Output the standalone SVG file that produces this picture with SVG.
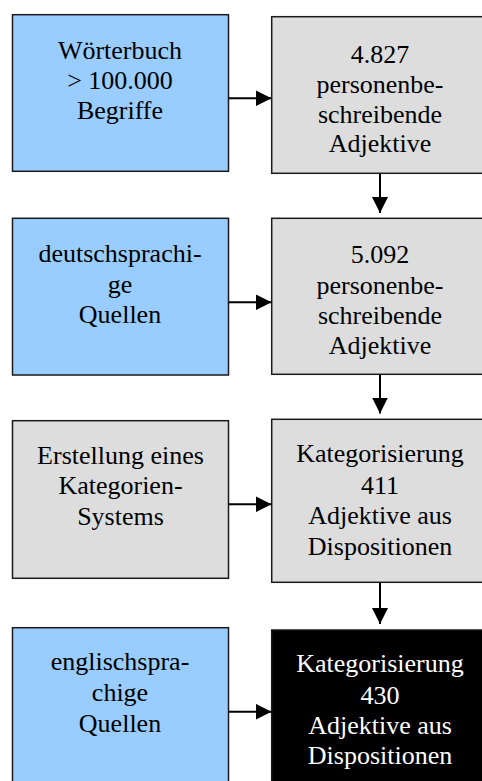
<svg xmlns="http://www.w3.org/2000/svg" width="482" height="781" viewBox="0 0 482 781">
  <style>
    .box { stroke: #1a1a1a; stroke-width: 1.5; }
    .blue { fill: #99ccff; }
    .gray { fill: #dddddd; }
    .dark { fill: #000000; }
    .lbl { font-family: "Liberation Serif", "Times New Roman", serif; font-size: 26px; text-anchor: middle; fill: #000; }
    .inv { fill: #ffffff; }
    .conn { stroke: #000; stroke-width: 2; fill: none; marker-end: url(#head); }
  </style>
  <defs>
    <marker id="head" markerUnits="userSpaceOnUse" markerWidth="16" markerHeight="16" viewBox="0 0 16 16" refX="16" refY="8" orient="auto">
      <path d="M0,0 L16,8 L0,16 Z" fill="#000"/>
    </marker>
  </defs>

  <rect width="482" height="781" fill="#ffffff"/>

  <g id="woerterbuch">
    <rect class="box blue" x="12.5" y="14.7" width="216" height="156.6"/>
    <text class="lbl" x="120" y="58.5">Wörterbuch</text>
    <text class="lbl" x="120" y="89">&gt; 100.000</text>
    <text class="lbl" x="120" y="118.5">Begriffe</text>
  </g>

  <g id="adjektive-4827">
    <rect class="box gray" x="271.7" y="16.7" width="220" height="156.6"/>
    <text class="lbl" x="380" y="62.5">4.827</text>
    <text class="lbl" x="380" y="92.5">personenbe-</text>
    <text class="lbl" x="380" y="123">schreibende</text>
    <text class="lbl" x="380" y="152">Adjektive</text>
  </g>

  <g id="deutsche-quellen">
    <rect class="box blue" x="12.5" y="218.3" width="216" height="156.7"/>
    <text class="lbl" x="120" y="262">deutschsprachi-</text>
    <text class="lbl" x="120" y="292.5">ge</text>
    <text class="lbl" x="120" y="323">Quellen</text>
  </g>

  <g id="adjektive-5092">
    <rect class="box gray" x="271.7" y="218.3" width="220" height="156"/>
    <text class="lbl" x="380" y="263">5.092</text>
    <text class="lbl" x="380" y="293.5">personenbe-</text>
    <text class="lbl" x="380" y="324">schreibende</text>
    <text class="lbl" x="380" y="353.5">Adjektive</text>
  </g>

  <g id="kategoriensystem">
    <rect class="box gray" x="12.5" y="420.7" width="216" height="157.6"/>
    <text class="lbl" x="120.5" y="463.5">Erstellung eines</text>
    <text class="lbl" x="120.5" y="494">Kategorien-</text>
    <text class="lbl" x="120.5" y="525">Systems</text>
  </g>

  <g id="kategorisierung-411">
    <rect class="box gray" x="271.7" y="419.3" width="220" height="163"/>
    <text class="lbl" x="380" y="462">Kategorisierung</text>
    <text class="lbl" x="380" y="493.5">411</text>
    <text class="lbl" x="380" y="524">Adjektive aus</text>
    <text class="lbl" x="380" y="555">Dispositionen</text>
  </g>

  <g id="englische-quellen">
    <rect class="box blue" x="12.5" y="627.7" width="216" height="170"/>
    <text class="lbl" x="120" y="670">englischspra-</text>
    <text class="lbl" x="120" y="700.5">chige</text>
    <text class="lbl" x="120" y="731.5">Quellen</text>
  </g>

  <g id="kategorisierung-430">
    <rect class="box dark" x="271.7" y="630" width="220" height="170"/>
    <text class="lbl inv" x="380" y="672">Kategorisierung</text>
    <text class="lbl inv" x="380" y="703.5">430</text>
    <text class="lbl inv" x="380" y="734">Adjektive aus</text>
    <text class="lbl inv" x="380" y="763.5">Dispositionen</text>
  </g>

  <g id="connectors">
    <line class="conn" x1="229" y1="98.3" x2="271.5" y2="98.3"/>
    <line class="conn" x1="229" y1="302.3" x2="271.5" y2="302.3"/>
    <line class="conn" x1="229" y1="504.3" x2="271.5" y2="504.3"/>
    <line class="conn" x1="229" y1="711.7" x2="271.5" y2="711.7"/>
    <line class="conn" x1="380" y1="174" x2="380" y2="213"/>
    <line class="conn" x1="380" y1="375" x2="380" y2="413.5"/>
    <line class="conn" x1="380" y1="583" x2="380" y2="624"/>
  </g>
</svg>
